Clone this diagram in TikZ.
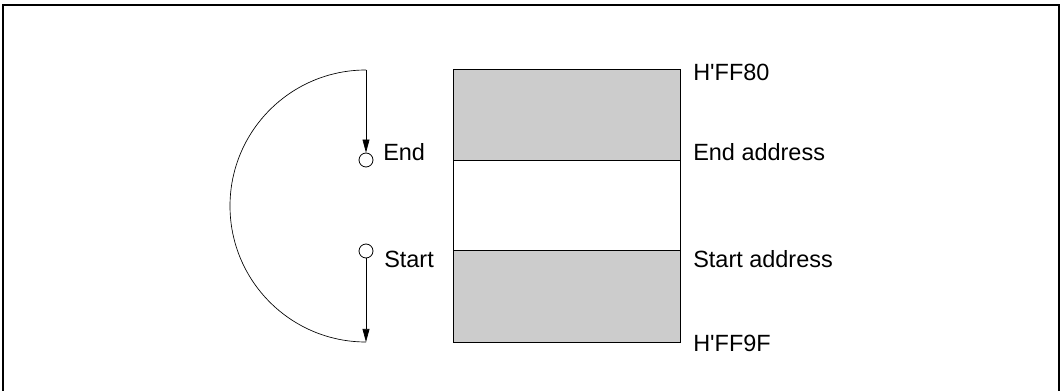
\documentclass[tikz,border=0pt]{standalone}
\usepackage{fontspec}
\setmainfont{Liberation Sans}
\usetikzlibrary{arrows.meta}
\tikzset{
  lbl/.style={anchor=base west, inner sep=0pt, font=\fontsize{17.6}{20}\selectfont},
  tap/.style={draw, circle, fill=white, minimum size=10.5pt, inner sep=0pt, line width=0.6pt},
  flow/.style={-{Triangle[length=9.8pt,width=5.2pt]}, line width=0.5pt},
}
\begin{document}
\begin{tikzpicture}[x=0.75pt,y=-0.75pt]
\useasboundingbox (0,0) rectangle (1063,391);
% frame
\draw[line width=1.5pt] (3,391) -- (3,5) -- (1059,5) -- (1059,391);
% memory block
\fill[gray!40] (453,70) rectangle (680,161);
\fill[gray!40] (453,251) rectangle (680,343);
\draw[line width=0.75pt] (453,70) rectangle (680,343);
\draw[line width=0.75pt] (453,161) -- (680,161);
\draw[line width=0.75pt] (453,251) -- (680,251);
% pointers
\coordinate (top) at (366,70);
\coordinate (bot) at (366,342);
\node[tap] (endpt) at (366,160) {};
\node[tap] (startpt) at (366,251) {};
\draw[line width=0.5pt] (top) arc[start angle=90, end angle=270, radius=102pt];
\draw[flow] (top) -- (endpt);
\draw[flow] (startpt) -- (bot);
\node[lbl] (endlbl) at (383,161) {End};
\node[lbl] (startlbl) at (384,268) {Start};
% addresses
\node[lbl] (hi) at (693,81) {H\textquotesingle FF80};
\node[lbl] (endaddr) at (693,161) {End address};
\node[lbl] (startaddr) at (693,268) {Start address};
\node[lbl] (lo) at (693,352) {H\textquotesingle FF9F};
\end{tikzpicture}
\end{document}
